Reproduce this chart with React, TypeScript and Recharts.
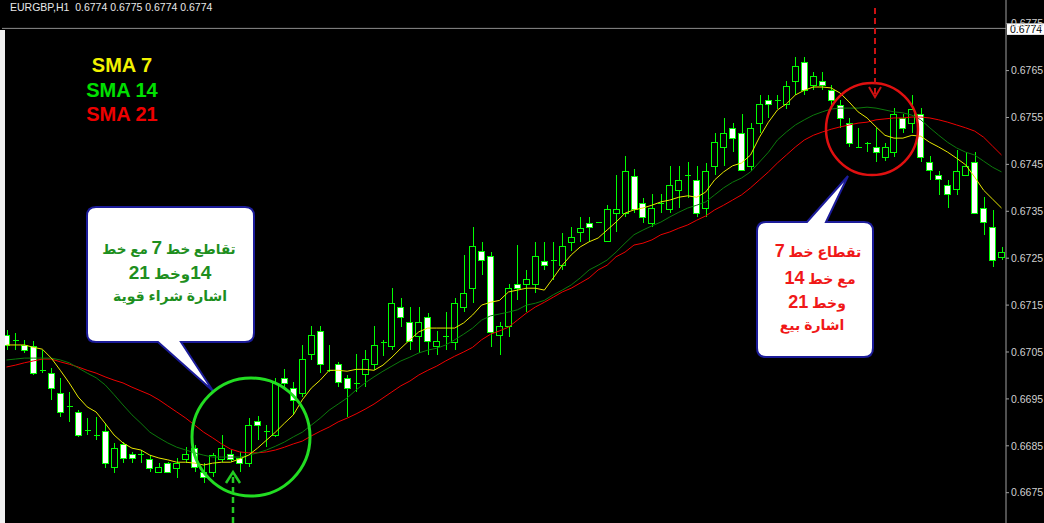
import React from 'react';
import { ComposedChart, Bar, Line, XAxis, YAxis, ReferenceLine } from 'recharts';

const opens = [0.67086,0.67075,0.67065,0.67062,0.67011,0.67005,0.66962,0.66934,0.66922,0.66883,0.66873,0.66881,0.66804,0.66853,0.66832,0.66832,0.66821,0.66794,0.66813,0.66802,0.66821,0.66845,0.66794,0.66794,0.66821,0.66832,0.66824,0.66813,0.66902,0.66881,0.66873,0.66994,0.66973,0.66962,0.67045,0.67094,0.67011,0.67024,0.66994,0.66983,0.67003,0.67024,0.67071,0.67062,0.67146,0.67114,0.67084,0.67124,0.67062,0.67084,0.67071,0.67146,0.67186,0.67265,0.67255,0.67086,0.67105,0.67195,0.67195,0.67195,0.67244,0.67246,0.67235,0.67284,0.67305,0.67325,0.67327,0.67286,0.67346,0.67346,0.67425,0.67367,0.67325,0.67367,0.67354,0.67395,0.67427,0.67416,0.67357,0.67446,0.67487,0.67528,0.67517,0.67446,0.67538,0.67587,0.67587,0.67579,0.67628,0.67668,0.67619,0.67628,0.67608,0.67577,0.67538,0.67487,0.67495,0.67487,0.67465,0.67476,0.67549,0.67538,0.67557,0.67455,0.67427,0.67406,0.67397,0.67427,0.67455,0.67357,0.67316,0.67252];
const highs = [0.67096,0.67090,0.67075,0.67073,0.67054,0.67015,0.66994,0.66964,0.66926,0.66909,0.66911,0.66898,0.66856,0.66858,0.66836,0.66841,0.66830,0.66813,0.66815,0.66824,0.66847,0.66851,0.66813,0.66834,0.66873,0.66841,0.66836,0.66909,0.66913,0.66894,0.66994,0.67013,0.66986,0.67065,0.67105,0.67105,0.67065,0.67028,0.67001,0.67045,0.67054,0.67105,0.67075,0.67186,0.67165,0.67146,0.67146,0.67133,0.67094,0.67135,0.67165,0.67257,0.67316,0.67284,0.67263,0.67114,0.67195,0.67278,0.67224,0.67284,0.67284,0.67284,0.67303,0.67316,0.67337,0.67337,0.67328,0.67363,0.67427,0.67467,0.67440,0.67378,0.67386,0.67386,0.67446,0.67446,0.67455,0.67446,0.67452,0.67517,0.67549,0.67538,0.67557,0.67538,0.67598,0.67598,0.67598,0.67628,0.67679,0.67679,0.67647,0.67647,0.67619,0.67587,0.67549,0.67528,0.67497,0.67528,0.67495,0.67570,0.67557,0.67598,0.67570,0.67467,0.67435,0.67416,0.67480,0.67476,0.67476,0.67380,0.67352,0.67273];
const lows = [0.67054,0.67054,0.67047,0.67001,0.67005,0.66948,0.66911,0.66900,0.66869,0.66873,0.66862,0.66802,0.66792,0.66813,0.66813,0.66813,0.66794,0.66792,0.66792,0.66781,0.66813,0.66794,0.66770,0.66783,0.66815,0.66815,0.66794,0.66804,0.66862,0.66847,0.66869,0.66969,0.66915,0.66954,0.67033,0.67005,0.67007,0.66975,0.66911,0.66964,0.66975,0.67011,0.67041,0.67054,0.67103,0.67054,0.67047,0.67043,0.67043,0.67054,0.67054,0.67135,0.67154,0.67214,0.67060,0.67043,0.67082,0.67160,0.67135,0.67175,0.67224,0.67203,0.67224,0.67265,0.67284,0.67284,0.67325,0.67284,0.67305,0.67337,0.67346,0.67325,0.67316,0.67346,0.67346,0.67357,0.67378,0.67337,0.67337,0.67427,0.67446,0.67476,0.67435,0.67435,0.67517,0.67549,0.67568,0.67568,0.67598,0.67598,0.67608,0.67608,0.67568,0.67528,0.67487,0.67484,0.67476,0.67455,0.67457,0.67465,0.67517,0.67517,0.67455,0.67416,0.67384,0.67357,0.67384,0.67427,0.67346,0.67299,0.67231,0.67246];
const closes = [0.67065,0.67073,0.67054,0.67005,0.67009,0.66973,0.66922,0.66932,0.66873,0.66881,0.66871,0.66813,0.66845,0.66824,0.66824,0.66830,0.66802,0.66804,0.66794,0.66813,0.66832,0.66804,0.66783,0.66830,0.66845,0.66821,0.66813,0.66894,0.66894,0.66879,0.66983,0.66983,0.66948,0.67035,0.67086,0.67024,0.67009,0.66986,0.66973,0.66981,0.67035,0.67065,0.67069,0.67154,0.67124,0.67073,0.67114,0.67073,0.67073,0.67082,0.67154,0.67175,0.67276,0.67246,0.67094,0.67105,0.67186,0.67186,0.67206,0.67255,0.67235,0.67244,0.67276,0.67295,0.67314,0.67316,0.67326,0.67354,0.67354,0.67435,0.67354,0.67337,0.67357,0.67365,0.67406,0.67416,0.67425,0.67346,0.67435,0.67497,0.67517,0.67506,0.67438,0.67528,0.67579,0.67579,0.67585,0.67617,0.67660,0.67608,0.67638,0.67619,0.67587,0.67549,0.67495,0.67485,0.67494,0.67476,0.67487,0.67557,0.67528,0.67568,0.67465,0.67438,0.67418,0.67386,0.67435,0.67446,0.67346,0.67327,0.67246,0.67263];

const sma7 = [0.67065,0.67065,0.67065,0.67060,0.67056,0.67037,0.67011,0.66984,0.66954,0.66933,0.66922,0.66898,0.66873,0.66856,0.66845,0.66841,0.66830,0.66824,0.66820,0.66815,0.66815,0.66813,0.66809,0.66813,0.66815,0.66815,0.66822,0.66830,0.66845,0.66862,0.66879,0.66898,0.66916,0.66948,0.66973,0.66990,0.67011,0.67011,0.67009,0.67013,0.67013,0.67011,0.67022,0.67039,0.67058,0.67076,0.67093,0.67101,0.67101,0.67101,0.67101,0.67112,0.67129,0.67150,0.67156,0.67160,0.67178,0.67182,0.67186,0.67186,0.67182,0.67208,0.67235,0.67257,0.67274,0.67285,0.67293,0.67310,0.67327,0.67346,0.67353,0.67357,0.67363,0.67370,0.67374,0.67380,0.67383,0.67380,0.67391,0.67417,0.67434,0.67447,0.67453,0.67470,0.67508,0.67540,0.67566,0.67579,0.67598,0.67608,0.67615,0.67615,0.67613,0.67602,0.67583,0.67562,0.67549,0.67530,0.67512,0.67506,0.67506,0.67512,0.67510,0.67497,0.67487,0.67476,0.67463,0.67449,0.67423,0.67395,0.67376,0.67357];
const sma14 = [0.67033,0.67035,0.67037,0.67037,0.67037,0.67037,0.67033,0.67027,0.67016,0.67005,0.66995,0.66980,0.66959,0.66937,0.66916,0.66898,0.66879,0.66867,0.66856,0.66847,0.66841,0.66835,0.66830,0.66826,0.66826,0.66826,0.66826,0.66830,0.66835,0.66841,0.66849,0.66858,0.66869,0.66879,0.66894,0.66909,0.66926,0.66939,0.66952,0.66969,0.66984,0.66997,0.67009,0.67020,0.67031,0.67039,0.67048,0.67054,0.67058,0.67065,0.67076,0.67088,0.67101,0.67118,0.67127,0.67131,0.67135,0.67140,0.67150,0.67154,0.67160,0.67172,0.67182,0.67193,0.67208,0.67225,0.67235,0.67246,0.67263,0.67282,0.67300,0.67310,0.67319,0.67327,0.67338,0.67348,0.67357,0.67363,0.67370,0.67385,0.67400,0.67412,0.67421,0.67434,0.67455,0.67476,0.67502,0.67519,0.67534,0.67545,0.67555,0.67562,0.67568,0.67570,0.67570,0.67570,0.67572,0.67570,0.67566,0.67562,0.67560,0.67555,0.67545,0.67528,0.67512,0.67497,0.67485,0.67476,0.67470,0.67457,0.67444,0.67434];
const sma21 = [0.67018,0.67022,0.67027,0.67031,0.67035,0.67035,0.67029,0.67024,0.67018,0.67011,0.67005,0.66997,0.66990,0.66984,0.66975,0.66967,0.66959,0.66948,0.66935,0.66922,0.66909,0.66894,0.66879,0.66867,0.66854,0.66843,0.66837,0.66835,0.66835,0.66837,0.66841,0.66847,0.66854,0.66860,0.66871,0.66881,0.66890,0.66901,0.66909,0.66918,0.66928,0.66939,0.66952,0.66965,0.66978,0.66988,0.67001,0.67011,0.67020,0.67031,0.67041,0.67050,0.67060,0.67076,0.67088,0.67095,0.67103,0.67118,0.67133,0.67146,0.67156,0.67167,0.67178,0.67186,0.67197,0.67208,0.67225,0.67235,0.67253,0.67263,0.67278,0.67282,0.67289,0.67300,0.67306,0.67314,0.67321,0.67331,0.67340,0.67353,0.67363,0.67374,0.67385,0.67400,0.67417,0.67434,0.67453,0.67470,0.67487,0.67502,0.67512,0.67519,0.67525,0.67530,0.67534,0.67538,0.67540,0.67545,0.67547,0.67549,0.67549,0.67551,0.67551,0.67549,0.67545,0.67540,0.67534,0.67528,0.67521,0.67508,0.67489,0.67470];

const priceTicks = [0.6675, 0.6685, 0.6695, 0.6705, 0.6715, 0.6725, 0.6735, 0.6745, 0.6755, 0.6765, 0.6775];
const lastPrice = 0.6774;
const titleText = 'EURGBP,H1  0.6774 0.6775 0.6774 0.6774';
const legend = [
  { label: 'SMA 7', color: '#f2f200' },
  { label: 'SMA 14', color: '#00e000' },
  { label: 'SMA 21', color: '#ee0000' },
];
const buyLines = ['تقاطع خط 7 مع خط', '14وخط 21', 'اشارة شراء قوية'];
const sellLines = ['تقطاع خط 7', 'مع خط 14', 'وخط 21', 'اشارة بيع'];

const data = opens.map((o, i) => ({
  i,
  open: o,
  high: highs[i],
  low: lows[i],
  close: closes[i],
  sma7: sma7[i],
  sma14: sma14[i],
  sma21: sma21[i],
}));

const CANDLE = '#00ff00';
const FONT = "'Liberation Sans', 'DejaVu Sans', Arial, sans-serif";

const Candle = (props: any) => {
  const { x, y, width, height, payload } = props;
  if (x == null || y == null || !payload) return null;
  const { open, close, high, low } = payload;
  const top = Math.min(y, y + height);
  const h = Math.abs(height);
  const span = high - low;
  const py = (v: number) => (span > 0 ? top + ((high - v) / span) * h : top);
  const cx = Math.round(x + width / 2) + 0.5;
  const bx = Math.round(x) + 0.5;
  const bw = Math.round(width) - 1;
  const bTop = py(Math.max(open, close));
  const bBot = py(Math.min(open, close));
  const bull = close > open;
  return (
    <g shapeRendering="crispEdges">
      <line x1={cx} x2={cx} y1={Math.round(top)} y2={Math.round(top + h)} stroke={CANDLE} strokeWidth={1} />
      {bBot - bTop < 1.5 ? (
        <line x1={bx} x2={bx + bw} y1={Math.round(bTop) + 0.5} y2={Math.round(bTop) + 0.5} stroke={CANDLE} strokeWidth={1} />
      ) : (
        <rect x={bx} y={Math.round(bTop) + 0.5} width={bw} height={Math.max(1, Math.round(bBot - bTop))} fill={bull ? '#000' : '#fff'} stroke={CANDLE} strokeWidth={1} />
      )}
    </g>
  );
};

const PriceTag = (props: any) => {
  const vb = props.viewBox || {};
  const x = (vb.x || 0) + (vb.width || 0) + 1;
  const y = vb.y || 0;
  return (
    <g>
      <rect x={x} y={y - 5} width={37} height={11.5} fill="#fff" />
      <text x={x + 3} y={y + 4.5} fontSize={10.5} fontFamily={FONT} fill="#000">{lastPrice.toFixed(4)}</text>
    </g>
  );
};

const RtlLine = ({ text, cx, cy, size, numSize, color }: any) => (
  <div
    dir="rtl"
    style={{
      position: 'absolute',
      left: cx - 110,
      top: cy - 13,
      width: 220,
      height: 26,
      lineHeight: '26px',
      textAlign: 'center',
      direction: 'rtl',
      fontFamily: FONT,
      fontWeight: 'bold',
      fontSize: size,
      color,
      whiteSpace: 'nowrap',
    }}
  >
    {String(text)
      .split(/(\d+)/)
      .filter((s: string) => s.length > 0)
      .map((s: string, k: number) =>
        /^\d+$/.test(s) ? (
          <span key={k} style={{ fontSize: numSize }}>{s}</span>
        ) : (
          <React.Fragment key={k}>{s}</React.Fragment>
        )
      )}
  </div>
);

export default function App() {
  return (
    <div style={{ position: 'absolute', left: 0, top: 0, width: 1044, height: 523, background: '#000', overflow: 'hidden' }}>
      <div style={{ position: 'absolute', left: 0, top: 0 }}>
        <ComposedChart width={1044} height={523} data={data} margin={{ top: 0, right: 0, bottom: 0, left: 2 }}>
          <XAxis dataKey="i" type="category" hide />
          <YAxis
            orientation="right"
            width={38}
            domain={[0.666854, 0.678005]}
            allowDataOverflow
            ticks={priceTicks}
            interval={0}
            tickFormatter={(v: number) => v.toFixed(4)}
            tick={{ fill: '#d0d0d0', fontSize: 10.5, fontFamily: FONT }}
            axisLine={{ stroke: '#a0a0a0' }}
            tickLine={{ stroke: '#a0a0a0' }}
            tickSize={3}
            tickMargin={2}
          />
          <ReferenceLine y={lastPrice} stroke="#8c8c8c" strokeWidth={1} label={<PriceTag />} />
          <Bar dataKey={(d: any) => [d.low, d.high]} barSize={7} shape={<Candle />} isAnimationActive={false} />
          <Line type="linear" dataKey="sma21" stroke="#ee0000" strokeWidth={1} dot={false} activeDot={false} isAnimationActive={false} />
          <Line type="linear" dataKey="sma14" stroke="#0c7a0c" strokeWidth={1} dot={false} activeDot={false} isAnimationActive={false} />
          <Line type="linear" dataKey="sma7" stroke="#e8e800" strokeWidth={1} dot={false} activeDot={false} isAnimationActive={false} />
        </ComposedChart>
      </div>

      <div style={{ position: 'absolute', left: 0, top: 30, width: 5, height: 493, background: '#f0f0f0' }} />

      <svg width={1044} height={523} style={{ position: 'absolute', left: 0, top: 0, pointerEvents: 'none' }}>
        {legend.map((l, k) => (
          <text key={k} x={122} y={72 + k * 24.5} textAnchor="middle" fontFamily={FONT} fontWeight="bold" fontSize={20} fill={l.color}>
            {l.label}
          </text>
        ))}
        <path
          d="M 96 207 H 245 Q 254 207 254 216 V 333 Q 254 342 245 342 H 181 L 213 391 L 158 342 H 96 Q 87 342 87 333 V 216 Q 87 207 96 207 Z"
          fill="#fff"
          stroke="#1c1c9a"
          strokeWidth={2}
        />
        <path
          d="M 766 222 H 807 L 848 176 L 826 222 H 864 Q 873 222 873 231 V 348 Q 873 357 864 357 H 766 Q 757 357 757 348 V 231 Q 757 222 766 222 Z"
          fill="#fff"
          stroke="#1c1c9a"
          strokeWidth={2}
        />
        <circle cx={251} cy={437} r={59} fill="none" stroke="#22dd22" strokeWidth={3} />
        <circle cx={872} cy={129} r={46} fill="none" stroke="#e01010" strokeWidth={2.5} />
        <line x1={233} y1={523} x2={233} y2={474} stroke="#22cc22" strokeWidth={2.5} strokeDasharray="6 4" />
        <polyline points="226,483 233,472 240,483" fill="none" stroke="#22cc22" strokeWidth={2.5} />
        <line x1={875} y1={8} x2={875} y2={94} stroke="#cc1111" strokeWidth={2} strokeDasharray="6 4" />
        <polyline points="869,87 875,97 881,87" fill="none" stroke="#cc1111" strokeWidth={2} />
      </svg>

      <div style={{ position: 'absolute', left: 10, top: 1, fontFamily: FONT, fontSize: 10.5, color: '#e8e8e8', whiteSpace: 'pre' }}>
        {titleText}
      </div>

      <RtlLine text={buyLines[0]} cx={169} cy={248} size={13.5} numSize={19} color="#1e8f1e" />
      <RtlLine text={buyLines[1]} cx={170} cy={273} size={15} numSize={19} color="#1e8f1e" />
      <RtlLine text={buyLines[2]} cx={170} cy={296} size={14} numSize={14} color="#1e8f1e" />

      <RtlLine text={sellLines[0]} cx={818} cy={251} size={14} numSize={18} color="#f01818" />
      <RtlLine text={sellLines[1]} cx={820} cy={278} size={14} numSize={18} color="#f01818" />
      <RtlLine text={sellLines[2]} cx={817} cy={302} size={14} numSize={18} color="#f01818" />
      <RtlLine text={sellLines[3]} cx={812} cy={325} size={14} numSize={14} color="#f01818" />
    </div>
  );
}
